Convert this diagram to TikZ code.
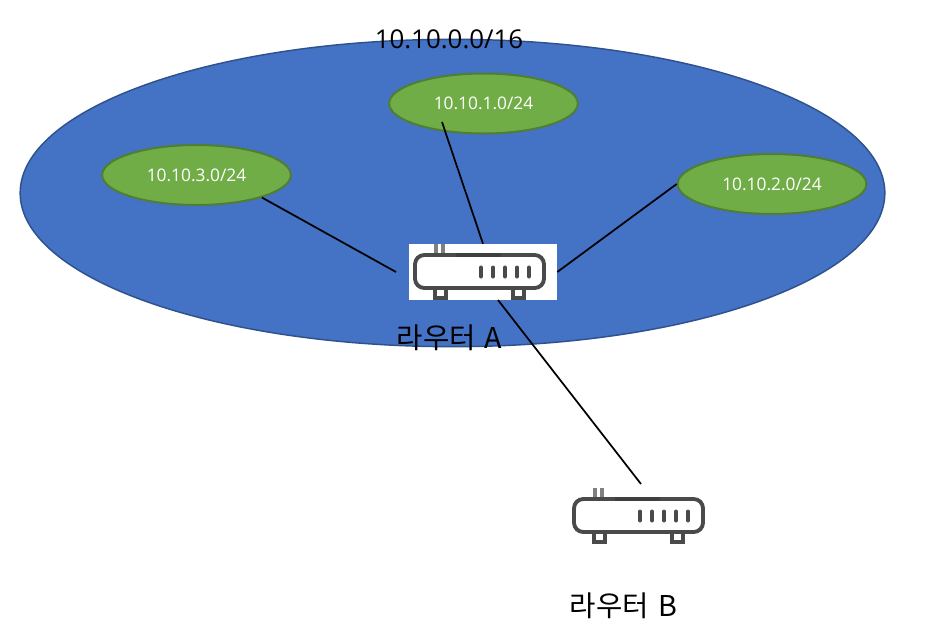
\documentclass[tikz,border=0pt]{standalone}
\usepackage{fontspec}
\setmainfont{Open Sans}
\newfontfamily\krfont{Noto Sans CJK KR}
\usetikzlibrary{shapes.geometric}
\definecolor{netblue}{HTML}{4472C4}
\definecolor{netedge}{HTML}{2F528F}
\definecolor{subgreen}{HTML}{70AD47}
\definecolor{subedge}{HTML}{507E32}
\definecolor{icon}{HTML}{4A4A4A}
\tikzset{
  x=0.75pt,y=-0.75pt,
  bignet/.style={ellipse,draw=netedge,fill=netblue,line width=1.1pt,inner sep=0pt,minimum width=648.5pt,minimum height=230.5pt},
  subnet/.style={ellipse,draw=subedge,fill=subgreen,line width=1.5pt,inner sep=0pt,minimum width=141.5pt,minimum height=45pt,text=white,font=\fontsize{13pt}{15pt}\selectfont},
  netlabel/.style={inner sep=0pt,font=\fontsize{19.4pt}{22pt}\selectfont},
  routerlabel/.style={inner sep=0pt,font=\krfont\fontsize{21.5pt}{25pt}\selectfont},
  routerbox/.style={fill=white,inner sep=0pt,minimum width=111pt,minimum height=42pt},
  link/.style={draw=black,line width=1.3pt},
  routerline/.style={draw=icon,line width=2.9pt,rounded corners=7pt},
  ledbar/.style={draw=icon,line width=3pt,line cap=round},
  pics/routericon/.style={code={
    % antennas
    \draw[icon!70,line width=2.6pt] (-47,-28) -- (-47,-17);
    \draw[icon!70,line width=2.6pt] (-40,-28) -- (-40,-17);
    % feet
    \draw[icon,line width=2.6pt,fill=white] (-48,16) rectangle (-37,26);
    \draw[icon,line width=2.6pt,fill=white] (30,16) rectangle (41,26);
    % body
    \draw[routerline,fill=white] (-68,-17) rectangle (61,16);
    \draw[draw=icon!85!black,line width=3.2pt] (-27,-17) -- (18,-17);
    % lights
    \foreach \lx in {-2,10,22,34,46}
      \draw[ledbar] (\lx,-4.5) -- (\lx,4.5);
  }}
}
\begin{document}
\begin{tikzpicture}
\useasboundingbox (0,0) rectangle (945,629);
\fill[white] (0,0) rectangle (945,629);
\node[bignet] (net) at (452.5,193) {};
\node[netlabel] (netname) at (449,39) {10.10.0.0/16};
\node[subnet] (sub3) at (196.5,175) {10.10.3.0/24};
\node[subnet] (sub1) at (483.5,103.5) {10.10.1.0/24};
\node[subnet] (sub2) at (772,184) {10.10.2.0/24};
\node[routerbox] (routerA) at (483,272) {};
\pic at (483,272) {routericon};
\node[routerbox,fill=none] (routerB) at (642,516) {};
\pic at (642,516) {routericon};
\node[routerlabel] (nameA) at (449.5,338) {라우터\hspace{2pt} A};
\node[routerlabel] (nameB) at (623.5,606) {라우터\hspace{2pt} B};
\coordinate (in1) at (442,122);
\coordinate (leftA) at (396,272);
\coordinate (belowA) at (498,300);
\coordinate (aboveB) at (641,484);
\draw[link] (sub3.-19) -- (leftA);
\draw[link] (in1) -- (routerA.north);
\draw[link] (sub2.west) -- (routerA.east);
\draw[link] (belowA) -- (aboveB);
\end{tikzpicture}
\end{document}
